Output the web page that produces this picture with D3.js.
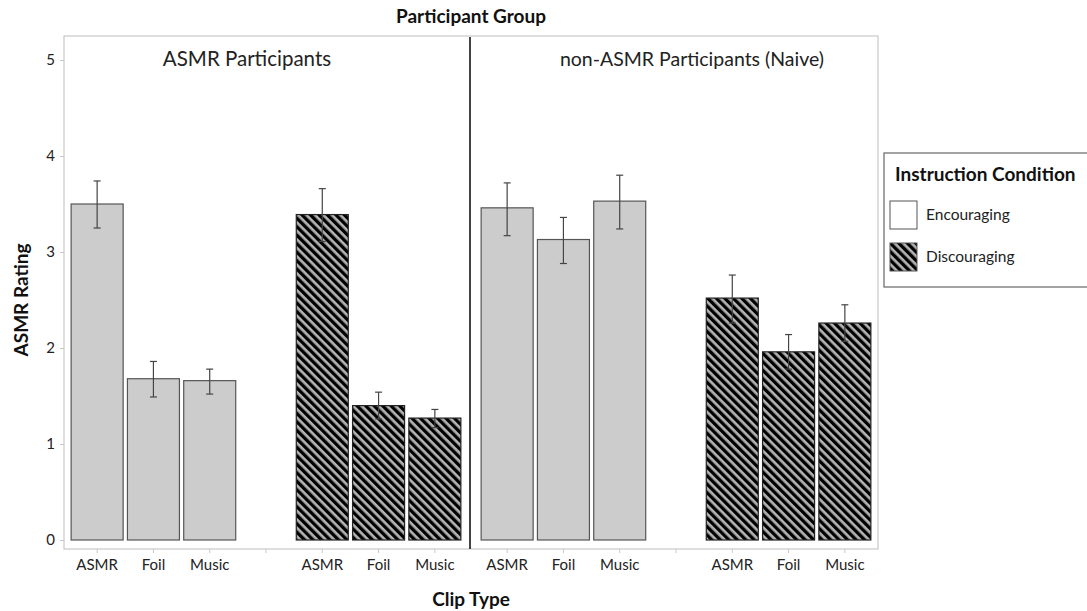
<!DOCTYPE html>
<html><head><meta charset="utf-8">
<script src="https://d3js.org/d3.v7.min.js"></script>
<style>body{margin:0;background:#fff}svg{display:block}text{font-family:Lato,"Open Sans",sans-serif}</style>
</head><body><svg id="c" width="1087" height="611"></svg>
<script>
const groups = ["ASMR Participants", "non-ASMR Participants (Naive)"];
const conditions = ["Encouraging", "Discouraging"];
const clips = ["ASMR", "Foil", "Music"];
const yTicks = [0, 1, 2, 3, 4, 5];
// mean values
const asmrEnc = [3.50, 1.68, 1.66];
const asmrDis = [3.39, 1.40, 1.27];
const naiveEnc = [3.46, 3.13, 3.53];
const naiveDis = [2.52, 1.96, 2.26];
// error bar bounds
const asmrEncLo = [3.25, 1.49, 1.52], asmrEncHi = [3.74, 1.86, 1.78];
const asmrDisLo = [3.11, 1.26, 1.17], asmrDisHi = [3.66, 1.54, 1.36];
const naiveEncLo = [3.17, 2.88, 3.24], naiveEncHi = [3.72, 3.36, 3.80];
const naiveDisLo = [2.26, 1.78, 2.07], naiveDisHi = [2.76, 2.14, 2.45];

const data = [
  [{v: asmrEnc, lo: asmrEncLo, hi: asmrEncHi}, {v: asmrDis, lo: asmrDisLo, hi: asmrDisHi}],
  [{v: naiveEnc, lo: naiveEncLo, hi: naiveEncHi}, {v: naiveDis, lo: naiveDisLo, hi: naiveDisHi}]
];

const svg = d3.select("#c");
const defs = svg.append("defs");
const pat = defs.append("pattern").attr("id","stripe").attr("patternUnits","userSpaceOnUse")
  .attr("width",6).attr("height",6).attr("patternTransform","rotate(-45)");
pat.append("rect").attr("width",6).attr("height",6).attr("fill","#b4b4b4");
pat.append("rect").attr("width",3.3).attr("height",6).attr("fill","#000");

const frame = {l: 64, r: 878, t: 36, b: 549};
const divX = 470;
const y = d3.scaleLinear().domain([0, 5]).range([540, 60]);

const slots = ["E-ASMR","E-Foil","E-Music","gap","D-ASMR","D-Foil","D-Music"];
const panelRanges = [[69, 463], [479, 873]];
const labelCenters = [247, 692];

svg.append("rect").attr("x",frame.l).attr("y",frame.t).attr("width",frame.r-frame.l).attr("height",frame.b-frame.t)
  .attr("fill","none").attr("stroke","#c8c8c8").attr("stroke-width",1.2);
svg.append("line").attr("x1",divX).attr("x2",divX).attr("y1",frame.t+1).attr("y2",frame.b)
  .attr("stroke","#444").attr("stroke-width",2);

const yAxis = d3.axisLeft(y).tickValues(yTicks).tickFormat(d3.format("d")).tickSize(4).tickPadding(5);
const ga = svg.append("g").attr("transform",`translate(${frame.l},0)`).call(yAxis);
ga.select(".domain").remove();
ga.selectAll(".tick line").attr("stroke","#c8c8c8");
ga.selectAll(".tick text").attr("font-size",15).attr("fill","#222").attr("font-family","Lato, sans-serif");

groups.forEach((g, gi) => {
  const x = d3.scaleBand().domain(slots).range(panelRanges[gi]).paddingInner(0.076).paddingOuter(0.038);
  const xa = d3.axisBottom(x).tickSize(4).tickPadding(6).tickFormat(d => d === "gap" ? "" : d.split("-")[1]);
  const gx = svg.append("g").attr("transform",`translate(0,${frame.b})`).call(xa);
  gx.select(".domain").remove();
  gx.selectAll(".tick line").attr("stroke","#c8c8c8");
  gx.selectAll(".tick text").attr("font-size",15).attr("fill","#222").attr("font-family","Lato, sans-serif");

  conditions.forEach((c, ci) => {
    const d = data[gi][ci];
    clips.forEach((clip, k) => {
      const key = (ci === 0 ? "E-" : "D-") + clip;
      const x0 = x(key), w = x.bandwidth();
      svg.append("rect").attr("x",x0).attr("y",y(d.v[k])).attr("width",w).attr("height",y(0)-y(d.v[k]))
        .attr("fill", ci === 0 ? "#cccccc" : "url(#stripe)")
        .attr("stroke", ci === 0 ? "#555" : "#222").attr("stroke-width",1.2);
      const cx = x0 + w/2;
      const eb = svg.append("g").attr("stroke","#444").attr("stroke-width",1.2);
      eb.append("line").attr("x1",cx).attr("x2",cx).attr("y1",y(d.lo[k])).attr("y2",y(d.hi[k]));
      eb.append("line").attr("x1",cx-3.5).attr("x2",cx+3.5).attr("y1",y(d.lo[k])).attr("y2",y(d.lo[k]));
      eb.append("line").attr("x1",cx-3.5).attr("x2",cx+3.5).attr("y1",y(d.hi[k])).attr("y2",y(d.hi[k]));
    });
  });
  svg.append("text").attr("x",labelCenters[gi]).attr("y",66)
    .attr("text-anchor","middle").attr("font-size",gi===0 ? 20.5 : 19.5).attr("fill","#222").text(g);
});

svg.append("text").attr("x",471).attr("y",23).attr("text-anchor","middle").attr("font-size",19)
  .attr("font-weight","bold").attr("fill","#111").text("Participant Group");
svg.append("text").attr("x",471).attr("y",606).attr("text-anchor","middle").attr("font-size",19)
  .attr("font-weight","bold").attr("fill","#111").text("Clip Type");
svg.append("text").attr("transform","translate(28,300) rotate(-90)").attr("text-anchor","middle").attr("font-size",19)
  .attr("font-weight","bold").attr("fill","#111").text("ASMR Rating");

const lg = svg.append("g");
lg.append("rect").attr("x",884).attr("y",153).attr("width",210).attr("height",134)
  .attr("fill","#fff").attr("stroke","#666").attr("stroke-width",1.2);
lg.append("text").attr("x",895).attr("y",181).attr("font-size",19).attr("font-weight","bold").attr("fill","#111").text("Instruction Condition");
conditions.forEach((c, i) => {
  const yy = 201 + i*42;
  lg.append("rect").attr("x",890).attr("y",yy).attr("width",27).attr("height",28)
    .attr("fill", i===0 ? "#fff" : "url(#stripe)").attr("stroke","#555").attr("stroke-width",1);
  lg.append("text").attr("x",926).attr("y",yy+19).attr("font-size",15.5).attr("fill","#222").text(c);
});
</script></body></html>
